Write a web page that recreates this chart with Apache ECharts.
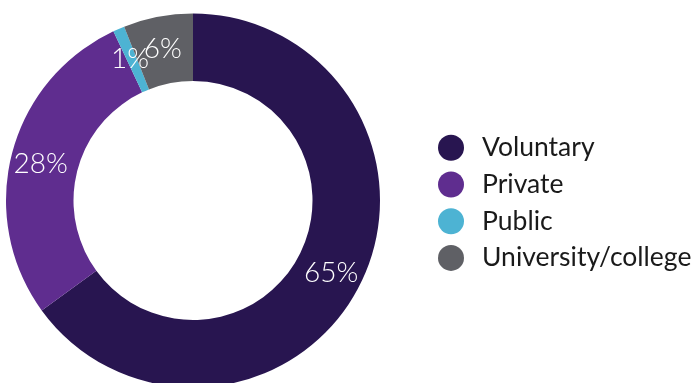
<!DOCTYPE html>
<html>
<head>
<meta charset="utf-8">
<script src="https://cdn.jsdelivr.net/npm/echarts@6/dist/echarts.min.js"></script>
<style>
  html, body { margin: 0; padding: 0; background: #ffffff; }
  #chart { width: 692px; height: 383px; }
</style>
</head>
<body>
<div id="chart"></div>
<script>
// Provider types and their share (%)
const categories = ['Voluntary', 'Private', 'Public', 'University/college'];
const shares = [65, 28, 1, 6];
const colors = ['#281550', '#5f2d8f', '#4db3d3', '#5f6065'];

const chart = echarts.init(document.getElementById('chart'), null, { renderer: 'canvas' });

chart.setOption({
  animation: false,
  backgroundColor: '#ffffff',
  color: colors,
  legend: {
    orient: 'vertical',
    left: 433,
    top: 129.3,
    icon: 'circle',
    itemWidth: 26,
    itemHeight: 26,
    itemGap: 9.7,
    selectedMode: false,
    data: categories,
    textStyle: {
      fontFamily: 'Lato',
      fontSize: 26.5,
      color: '#1a1a1a',
      padding: [0, 0, 0, 13]
    }
  },
  series: [{
    type: 'pie',
    center: [193, 200.5],
    radius: [119.5, 187],
    startAngle: 90,
    clockwise: true,
    silent: true,
    avoidLabelOverlap: false,
    minShowLabelAngle: 0,
    label: {
      show: true,
      position: 'inside',
      overflow: 'none',
      formatter: '{c}%',
      color: '#ffffff',
      fontFamily: 'Lato',
      fontWeight: 300,
      fontSize: 28,
      offset: [-1, 2]
    },
    labelLayout: { hideOverlap: false },
    labelLine: { show: false },
    itemStyle: { borderWidth: 0 },
    data: categories.map((name, i) => ({ name, value: shares[i] }))
  }]
});
</script>
</body>
</html>
